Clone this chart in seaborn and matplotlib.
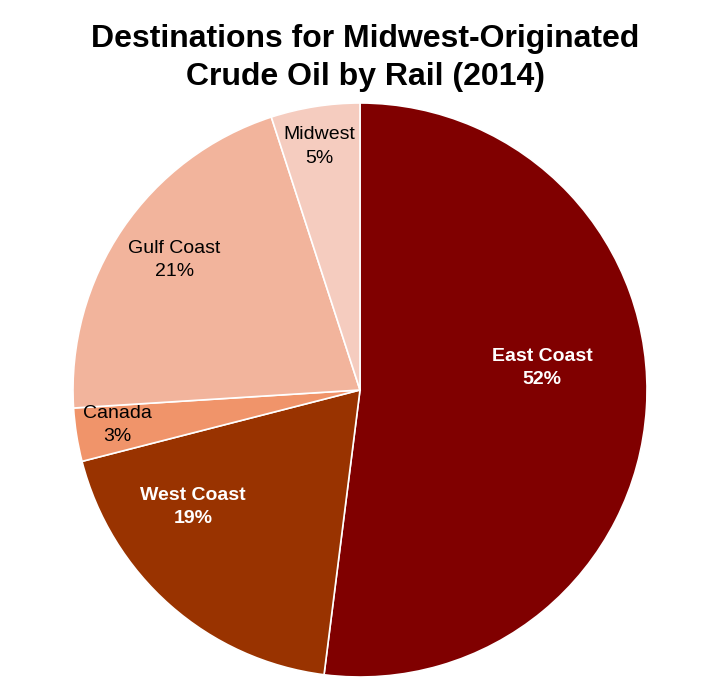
import matplotlib
matplotlib.use("Agg")
import matplotlib.pyplot as plt
import seaborn as sns
import numpy as np

categories = ["East Coast", "West Coast", "Canada", "Gulf Coast", "Midwest"]
shares = [52, 19, 3, 21, 5]
colors = ["#800000", "#993300", "#F0946A", "#F2B49C", "#F5CCBF"]
label_colors = ["white", "white", "black", "black", "black"]
label_weights = ["bold", "bold", "normal", "normal", "normal"]
# per-label placement tweaks (distance from centre as fraction of radius, angle offset in degrees)
label_dist = [0.64, 0.71, 0.855, 0.79, 0.86]
label_angle_off = [10.5, -13.6, -0.8, -0.8, 0.5]

sns.set_style("white")
plt.rcParams["font.family"] = ["Liberation Sans Narrow", "Liberation Sans", "DejaVu Sans"]
plt.rcParams["text.color"] = "black"

fig = plt.figure(figsize=(7.28, 6.86), dpi=100)
ax = fig.add_axes([73 / 728, 9 / 686, 574 / 728, 574 / 686])

wedges, _ = ax.pie(shares, colors=colors, startangle=90, counterclock=False,
                   wedgeprops=dict(edgecolor="white", linewidth=1.2))
ax.set_xlim(-1, 1)
ax.set_ylim(-1, 1)
ax.set_aspect("equal")
ax.axis("off")

for w, cat, val, c, fw, d, off in zip(wedges, categories, shares, label_colors,
                                       label_weights, label_dist, label_angle_off):
    mid = np.deg2rad((w.theta1 + w.theta2) / 2 + off)
    ax.text(d * np.cos(mid), d * np.sin(mid), f"{cat}\n{val}%", ha="center", va="center",
            color=c, fontsize=14, fontweight=fw, linespacing=1.5)

fig.text(0.502, 0.965, "Destinations for Midwest-Originated\nCrude Oil by Rail (2014)",
         ha="center", va="top", fontsize=23, fontweight="bold", linespacing=1.35,
         color="black")

fig.savefig("out.png", dpi=100)
